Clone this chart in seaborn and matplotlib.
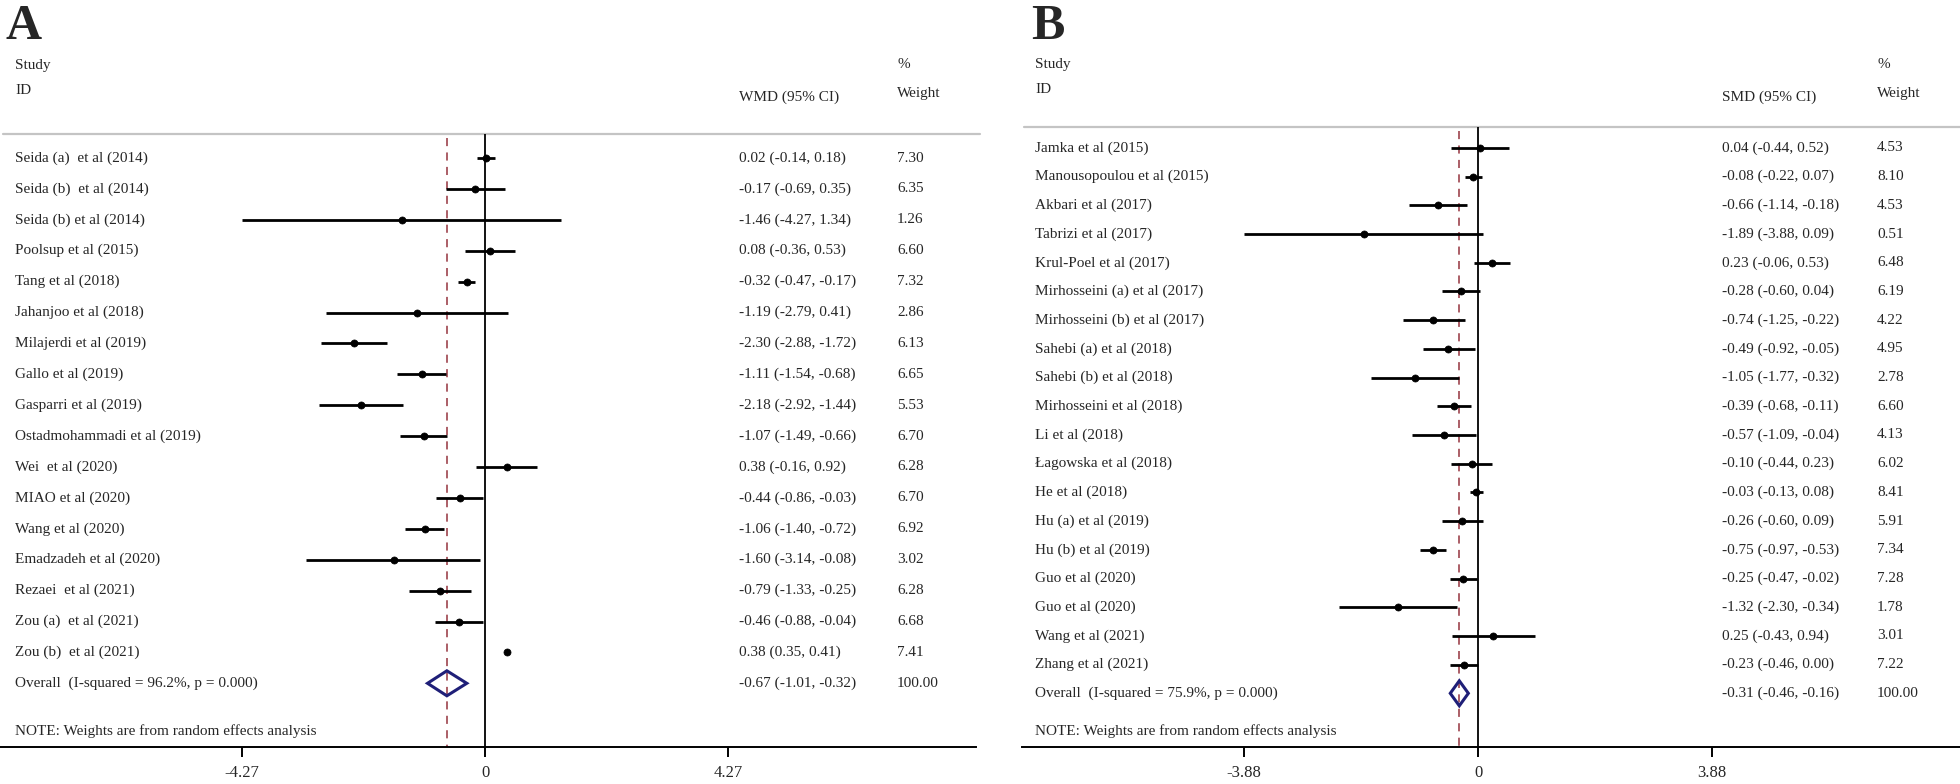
import matplotlib
matplotlib.use("Agg")
import matplotlib.pyplot as plt
import seaborn as sns
import numpy as np

# Panel A data (WMD)
studies_a = ["Seida (a)  et al (2014)", "Seida (b)  et al (2014)", "Seida (b) et al (2014)",
             "Poolsup et al (2015)", "Tang et al (2018)", "Jahanjoo et al (2018)",
             "Milajerdi et al (2019)", "Gallo et al (2019)", "Gasparri et al (2019)",
             "Ostadmohammadi et al (2019)", "Wei  et al (2020)", "MIAO et al (2020)",
             "Wang et al (2020)", "Emadzadeh et al (2020)", "Rezaei  et al (2021)",
             "Zou (a)  et al (2021)", "Zou (b)  et al (2021)"]
es_a = [0.02, -0.17, -1.46, 0.08, -0.32, -1.19, -2.30, -1.11, -2.18, -1.07, 0.38, -0.44, -1.06, -1.60, -0.79, -0.46, 0.38]
lo_a = [-0.14, -0.69, -4.27, -0.36, -0.47, -2.79, -2.88, -1.54, -2.92, -1.49, -0.16, -0.86, -1.40, -3.14, -1.33, -0.88, 0.35]
hi_a = [0.18, 0.35, 1.34, 0.53, -0.17, 0.41, -1.72, -0.68, -1.44, -0.66, 0.92, -0.03, -0.72, -0.08, -0.25, -0.04, 0.41]
w_a = [7.30, 6.35, 1.26, 6.60, 7.32, 2.86, 6.13, 6.65, 5.53, 6.70, 6.28, 6.70, 6.92, 3.02, 6.28, 6.68, 7.41]
overall_a = [-0.67, -1.01, -0.32]
i2_a = "96.2%"
ticks_a = [-4.27, 0, 4.27]

# Panel B data (SMD)
studies_b = ["Jamka et al (2015)", "Manousopoulou et al (2015)", "Akbari et al (2017)",
             "Tabrizi et al (2017)", "Krul-Poel et al (2017)", "Mirhosseini (a) et al (2017)",
             "Mirhosseini (b) et al (2017)", "Sahebi (a) et al (2018)", "Sahebi (b) et al (2018)",
             "Mirhosseini et al (2018)", "Li et al (2018)", "Łagowska et al (2018)",
             "He et al (2018)", "Hu (a) et al (2019)", "Hu (b) et al (2019)",
             "Guo et al (2020)", "Guo et al (2020)", "Wang et al (2021)", "Zhang et al (2021)"]
es_b = [0.04, -0.08, -0.66, -1.89, 0.23, -0.28, -0.74, -0.49, -1.05, -0.39, -0.57, -0.10, -0.03, -0.26, -0.75, -0.25, -1.32, 0.25, -0.23]
lo_b = [-0.44, -0.22, -1.14, -3.88, -0.06, -0.60, -1.25, -0.92, -1.77, -0.68, -1.09, -0.44, -0.13, -0.60, -0.97, -0.47, -2.30, -0.43, -0.46]
hi_b = [0.52, 0.07, -0.18, 0.09, 0.53, 0.04, -0.22, -0.05, -0.32, -0.11, -0.04, 0.23, 0.08, 0.09, -0.53, -0.02, -0.34, 0.94, 0.00]
w_b = [4.53, 8.10, 4.53, 0.51, 6.48, 6.19, 4.22, 4.95, 2.78, 6.60, 4.13, 6.02, 8.41, 5.91, 7.34, 7.28, 1.78, 3.01, 7.22]
overall_b = [-0.31, -0.46, -0.16]
i2_b = "75.9%"
ticks_b = [-3.88, 0, 3.88]

sns.set_style("white")
plt.rcParams['font.family'] = ['Liberation Serif', 'DejaVu Serif']

W, H = 1960, 784
AXIS_Y = 747
fig = plt.figure(figsize=(W / 100, H / 100), dpi=100)

FS = 11
NAVY = '#1f1f78'
DASH = '#a5525a'


def forest(letter, letter_x, x0, x1, zero, scale, row0, step, line_y, line_x0,
           studies, es, lo, hi, w, overall, i2, ticks, measure, label_x, es_x, w_x):
    ax = fig.add_axes([x0 / W, (H - AXIS_Y) / H, (x1 - x0) / W, AXIS_Y / H])
    ax.set_xlim((x0 - zero) / scale, (x1 - zero) / scale)
    ax.set_ylim((AXIS_Y - row0) / step, -row0 / step)
    px = lambda p: (p - zero) / scale
    py = lambda p: (p - row0) / step

    n = len(studies)
    rows = np.arange(n)
    ov_row = n
    bottom = (AXIS_Y - row0) / step

    # header
    ax.text(px(letter_x), py(4), letter, fontsize=36, fontweight='bold',
            va='top', ha='left', clip_on=False)
    ax.text(px(label_x), py(65), "Study", fontsize=FS, va='center')
    ax.text(px(label_x), py(90), "ID", fontsize=FS, va='center')
    ax.text(px(w_x), py(65), "%", fontsize=FS, va='center')
    ax.text(px(w_x), py(94), "Weight", fontsize=FS, va='center')
    ax.text(px(es_x), py(97), f"{measure} (95% CI)", fontsize=FS, va='center')
    ax.plot([px(line_x0), px(x1 + 4)], [py(line_y)] * 2, color='#c4c4c4', lw=1.6, clip_on=False)

    # reference lines
    ax.vlines(0, py(line_y), bottom, color='black', lw=1.3)
    ax.vlines(overall[0], py(line_y + 4), bottom, color=DASH, lw=1.3, linestyles=(0, (4.5, 3.5)))

    # study rows
    ax.hlines(rows, lo, hi, color='black', lw=2.0)
    sns.scatterplot(x=es, y=rows, marker='o', s=26, color='black', edgecolor='black',
                    linewidth=0.5, ax=ax, legend=False, zorder=3)
    for i in range(n):
        ax.text(px(label_x), i, studies[i], fontsize=FS, va='center')
        ax.text(px(es_x), i, f"{es[i]:.2f} ({lo[i]:.2f}, {hi[i]:.2f})", fontsize=FS, va='center')
        ax.text(px(w_x), i, f"{w[i]:.2f}", fontsize=FS, va='center')

    # overall diamond
    hh = 12.5 / step
    ax.fill([overall[1], overall[0], overall[2], overall[0], overall[1]],
            [ov_row, ov_row - hh, ov_row, ov_row + hh, ov_row],
            facecolor='none', edgecolor=NAVY, lw=2.2, zorder=4)
    ax.text(px(label_x), ov_row, f"Overall  (I-squared = {i2}, p = 0.000)", fontsize=FS, va='center')
    ax.text(px(es_x), ov_row, f"{overall[0]:.2f} ({overall[1]:.2f}, {overall[2]:.2f})",
            fontsize=FS, va='center')
    ax.text(px(w_x), ov_row, "100.00", fontsize=FS, va='center')
    ax.text(px(label_x), py(731), "NOTE: Weights are from random effects analysis",
            fontsize=FS, va='center')

    # x axis
    sns.despine(ax=ax, left=True, top=True, right=True, bottom=False)
    ax.spines['bottom'].set_linewidth(1.4)
    ax.spines['bottom'].set_color('black')
    ax.set_yticks([])
    ax.set_xticks(ticks)
    ax.set_xticklabels([f"{t:g}" for t in ticks], fontsize=12)
    ax.tick_params(axis='x', direction='out', length=7, width=1.4, color='black', pad=6,
                   bottom=True)
    ax.set_xlabel("")
    ax.set_ylabel("")
    ax.patch.set_alpha(0)
    return ax


forest("A", 5, 0, 976, 485, 56.9, 158, 30.9, 134, 3,
       studies_a, es_a, lo_a, hi_a, w_a, overall_a, i2_a, ticks_a, "WMD", 15, 739, 897)
forest("B", 1031, 1022, 1960, 1478, 60.3, 148, 28.7, 127, 1024,
       studies_b, es_b, lo_b, hi_b, w_b, overall_b, i2_b, ticks_b, "SMD", 1035, 1722, 1877)

fig.savefig("out.png", dpi=100)
